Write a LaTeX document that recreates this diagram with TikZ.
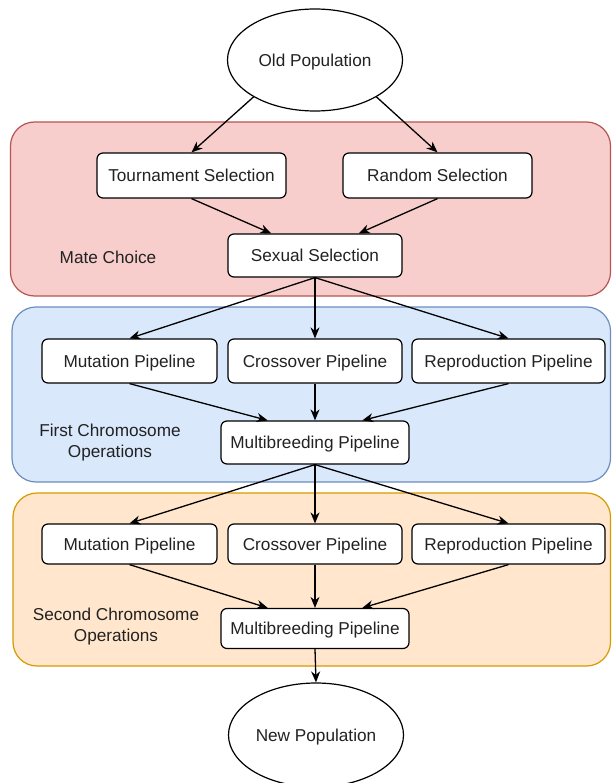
\documentclass[tikz,border=0pt]{standalone}
\usepackage{fontspec}
\setmainfont{Liberation Sans}
\usetikzlibrary{shapes.geometric,arrows.meta,calc}
\definecolor{redfill}{HTML}{F8CECC}\definecolor{redline}{HTML}{B85450}
\definecolor{bluefill}{HTML}{DAE8FC}\definecolor{blueline}{HTML}{6C8EBF}
\definecolor{orangefill}{HTML}{FFE6CC}\definecolor{orangeline}{HTML}{D79B00}
\definecolor{txt}{HTML}{222222}
\begin{document}
\begin{tikzpicture}[x=1pt,y=-1pt,
  font=\fontsize{17.2}{21}\selectfont, text=txt,
  panel/.style={rounded corners=24pt,line width=1.2pt},
  box/.style={draw=black,fill=white,rounded corners=6pt,line width=1.2pt,inner sep=0pt,
    text height=12.4pt,text depth=0pt},
  pop/.style={draw=black,fill=white,ellipse,line width=1.2pt,inner sep=0pt,
    text height=12.4pt,text depth=0pt},
  lab/.style={align=center,inner sep=0pt},
  flow/.style={line width=1.3pt,-{Stealth[length=11pt,width=9pt,inset=3.5pt]}}]
\clip (0,0) rectangle (611,783);
\fill[white] (0,0) rectangle (611,783);

% group panels
\draw[panel,fill=redfill,draw=redline] (10.5,122) rectangle (610.5,296);
\draw[panel,fill=bluefill,draw=blueline] (12,307) rectangle (610.5,482);
\draw[panel,fill=orangefill,draw=orangeline] (13,493) rectangle (610.5,666);

\node[lab] (matechoice) at (108,257) {Mate Choice};
\node[lab] (firstops) at (110,442.5) {First Chromosome\\Operations};
\node[lab] (secondops) at (116,626.5) {Second Chromosome\\Operations};

% populations
\node[pop,minimum width=175pt,minimum height=102pt] (oldpop) at (315,60) {Old Population};
\node[pop,minimum width=175pt,minimum height=104pt] (newpop) at (316,735) {New Population};

% mate choice
\node[box,minimum width=189pt,minimum height=45pt] (tourn) at (191.5,175.5) {Tournament Selection};
\node[box,minimum width=189pt,minimum height=45pt] (rand) at (437.5,175.5) {Random Selection};
\node[box,minimum width=174pt,minimum height=43pt] (sexual) at (315,255.5) {Sexual Selection};

% first chromosome
\node[box,minimum width=175pt,minimum height=44pt] (mutA) at (129.5,361) {Mutation Pipeline};
\node[box,minimum width=174pt,minimum height=44pt] (crossA) at (315,361) {Crossover Pipeline};
\node[box,minimum width=193pt,minimum height=44pt] (reprA) at (508.5,361) {Reproduction Pipeline};
\node[box,minimum width=188pt,minimum height=43pt] (multiA) at (315,442.5) {Multibreeding Pipeline};

% second chromosome
\node[box,minimum width=175pt,minimum height=40pt] (mutB) at (129.5,544) {Mutation Pipeline};
\node[box,minimum width=174pt,minimum height=40pt] (crossB) at (315,544) {Crossover Pipeline};
\node[box,minimum width=193pt,minimum height=40pt] (reprB) at (508.5,544) {Reproduction Pipeline};
\node[box,minimum width=188pt,minimum height=40pt] (multiB) at (315,628.5) {Multibreeding Pipeline};

% connectors
\draw[flow] (oldpop.211) -- (tourn.north);
\draw[flow] (oldpop.329) -- (rand.north);
\draw[flow] (tourn.south) -- ($(sexual.north west)!0.25!(sexual.north east)$);
\draw[flow] (rand.south) -- ($(sexual.north west)!0.75!(sexual.north east)$);

\draw[flow] (sexual.south) -- (mutA.north);
\draw[flow] (sexual.south) -- (crossA.north);
\draw[flow] (sexual.south) -- (reprA.north);
\draw[flow] (mutA.south) -- ($(multiA.north west)!0.25!(multiA.north east)$);
\draw[flow] (crossA.south) -- (multiA.north);
\draw[flow] (reprA.south) -- ($(multiA.north west)!0.75!(multiA.north east)$);

\draw[flow] (multiA.south) -- (mutB.north);
\draw[flow] (multiA.south) -- (crossB.north);
\draw[flow] (multiA.south) -- (reprB.north);
\draw[flow] (mutB.south) -- ($(multiB.north west)!0.25!(multiB.north east)$);
\draw[flow] (crossB.south) -- (multiB.north);
\draw[flow] (reprB.south) -- ($(multiB.north west)!0.75!(multiB.north east)$);

\draw[flow] (multiB.south) -- (newpop.north);
\end{tikzpicture}
\end{document}
